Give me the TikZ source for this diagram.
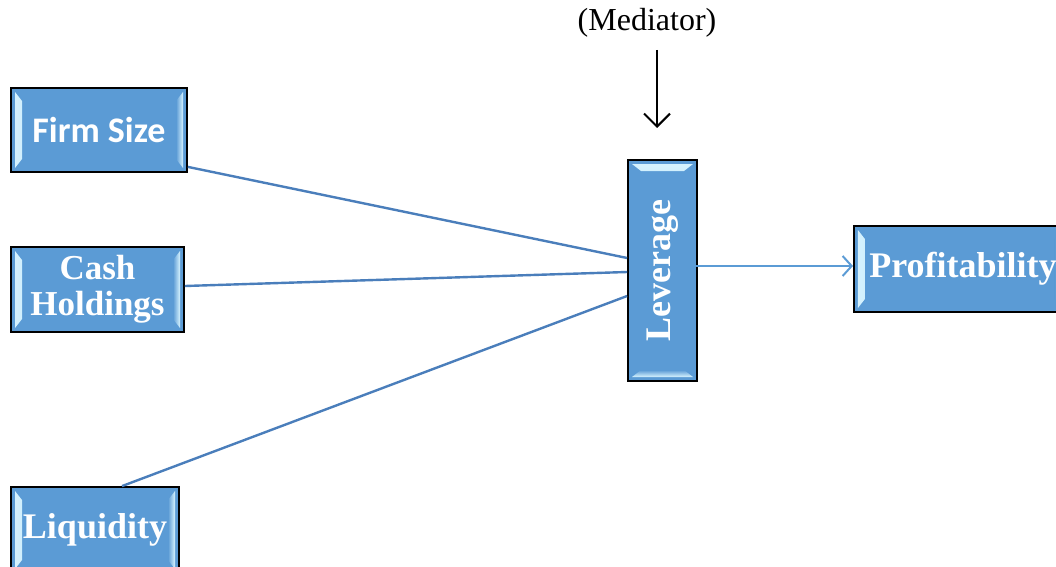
\documentclass[tikz,border=0pt]{standalone}
\usepackage{fontspec}
\setmainfont{Liberation Serif}
\newfontfamily\carlito{Carlito}
\usetikzlibrary{arrows.meta,calc}
\definecolor{boxblue}{HTML}{5B9BD5}
\definecolor{linkblue}{HTML}{4A7EBB}
\definecolor{hilite}{HTML}{D8F4FF}
\tikzset{
  box/.style={draw=black, line width=1.8pt, fill=boxblue, text=white,
    inner sep=0pt, align=center, font=\bfseries\fontsize{36}{36}\selectfont},
  hbevel/.style={path picture={
    \shade[left color=hilite, right color=boxblue]
      ($(path picture bounding box.north west)+(4pt,-4pt)$) -- ++(7pt,-9pt)
      -- ($(path picture bounding box.south west)+(11pt,13pt)$) -- ++(-7pt,-9pt) -- cycle;
    \shade[right color=hilite, left color=boxblue]
      ($(path picture bounding box.north east)+(-4pt,-4pt)$) -- ++(-7pt,-9pt)
      -- ($(path picture bounding box.south east)+(-11pt,13pt)$) -- ++(7pt,-9pt) -- cycle;
  }},
  vbevel/.style={path picture={
    \shade[top color=hilite, bottom color=boxblue]
      ($(path picture bounding box.north west)+(4pt,-4pt)$) -- ++(9pt,-7pt)
      -- ($(path picture bounding box.north east)+(-13pt,-11pt)$) -- ++(9pt,7pt) -- cycle;
    \shade[bottom color=hilite, top color=boxblue]
      ($(path picture bounding box.south west)+(4pt,4pt)$) -- ++(9pt,7pt)
      -- ($(path picture bounding box.south east)+(-13pt,11pt)$) -- ++(9pt,-7pt) -- cycle;
  }},
  link/.style={draw=linkblue, line width=2.4pt},
  outarrow/.style={draw=boxblue, line width=2pt, -{Straight Barb[length=9pt,width=20pt]}},
  medarrow/.style={draw=black, line width=2pt, -{Straight Barb[length=13pt,width=26pt]}},
}
\begin{document}
\begin{tikzpicture}[x=1pt,y=1pt]
\useasboundingbox (0,0) rectangle (1056,566);

\node[box, hbevel, minimum width=176pt, minimum height=84pt] (fs) at (99,436)
  {\carlito\bfseries Firm Size};
\node[box, hbevel, minimum width=173pt, minimum height=85pt] (ch) at (97.5,276.5)
  {\fontsize{35}{36}\selectfont Cash\\\fontsize{35}{36}\selectfont Holdings};
\node[box, hbevel, minimum width=168pt, minimum height=86pt] (lq) at (95,36)
  {Liquidity};
\node[box, vbevel, minimum width=69pt, minimum height=221pt] (lev) at (662.5,295.5)
  {\rotatebox{90}{Leverage}};
\node[box, hbevel, minimum width=212pt, minimum height=86pt, anchor=west] (pr) at (853,297)
  {\hspace*{10pt}Profitability\hspace*{4pt}};

\node[font=\fontsize{32}{34}\selectfont] (med) at (647,543) {(Mediator)};
\coordinate (medend) at (657,438);

\draw[link] ([yshift=6pt]fs.south east) -- ([yshift=12.5pt]lev.west);
\draw[link] ([yshift=3.5pt]ch.east) -- ([yshift=-1.5pt]lev.west);
\draw[link] ([xshift=27pt]lq.north) -- ([yshift=-25.5pt]lev.west);
\draw[outarrow] ([xshift=-7pt,yshift=4.5pt]lev.east) -- ([yshift=4.5pt-1.5pt]pr.west);
\draw[medarrow] (medend |- 0,516) -- (medend);
\end{tikzpicture}
\end{document}
